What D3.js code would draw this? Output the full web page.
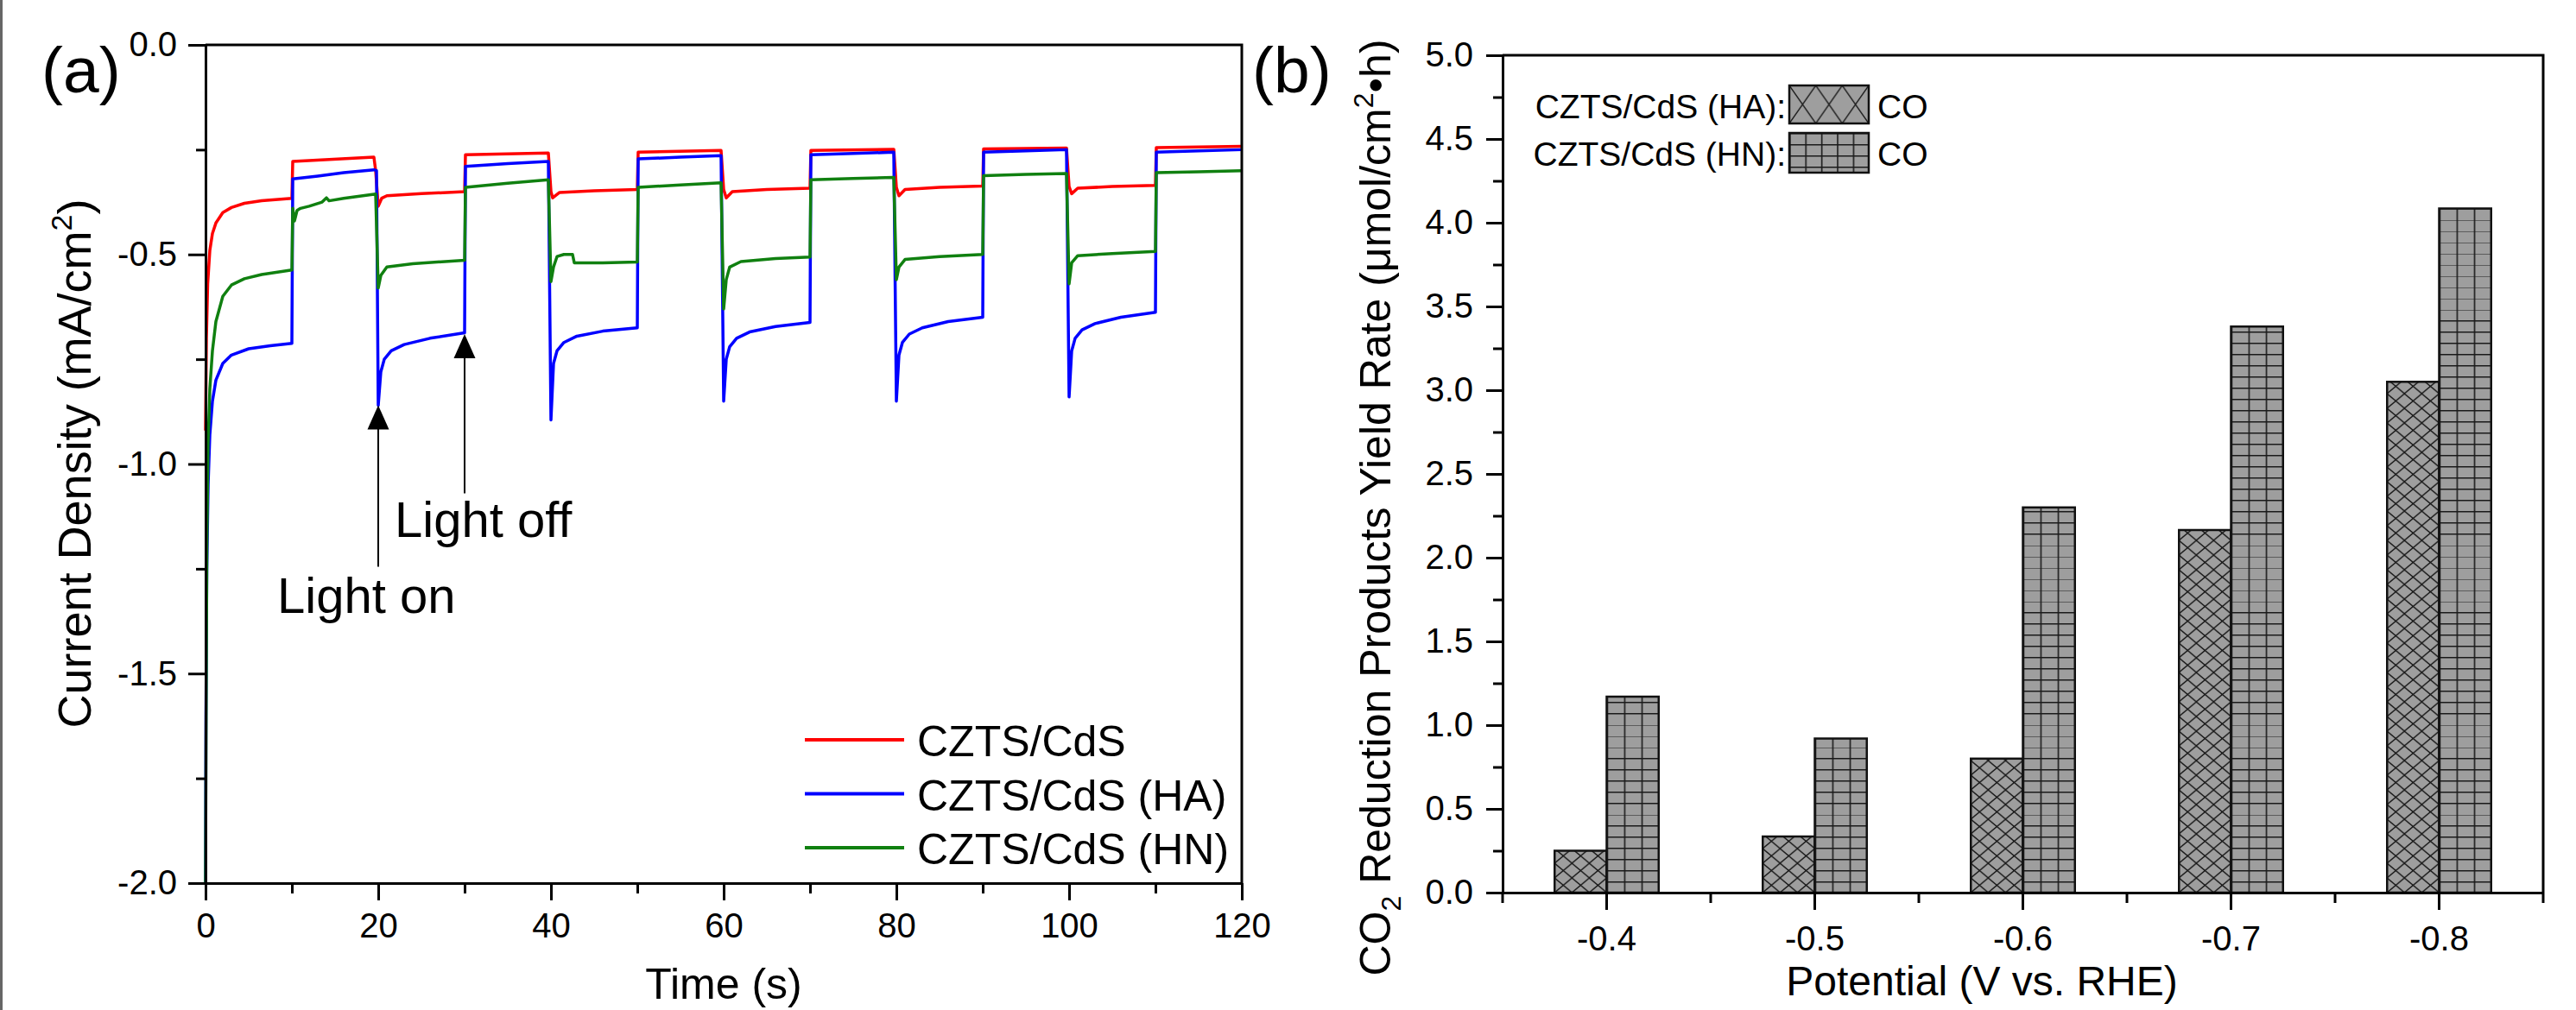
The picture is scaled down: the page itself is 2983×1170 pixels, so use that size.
<!DOCTYPE html>
<html lang="en">
<head>
<meta charset="UTF-8">
<title>CZTS/CdS photocurrent and CO2 reduction yield</title>
<script src="https://d3js.org/d3.v7.min.js"></script>
<style>
  body { margin: 0; background: #fff; }
  svg { display: block; font-family: "Liberation Sans", Arial, sans-serif; }
  .axis path, .axis line { stroke: #000; stroke-width: 3; }
  .axis text { font-size: 40px; fill: #000; font-family: "Liberation Sans", Arial, sans-serif; }
</style>
</head>
<body>
<svg id="chart" width="2983" height="1170"></svg>
<script>
// ---- data, panel (a): chronoamperometry under chopped light ----
const timeTicks = [0, 20, 40, 60, 80, 100, 120];
const timeMinor = [10, 30, 50, 70, 90, 110];
const densityTicks = [0, -0.5, -1, -1.5, -2];
const densityMinor = [-0.25, -0.75, -1.25, -1.75];
const seriesNames = ["CZTS/CdS", "CZTS/CdS (HA)", "CZTS/CdS (HN)"];

// [time (s), current density (mA/cm2)]
const cdsCurve = [
  [0, -0.92], [0.1, -0.7], [0.25, -0.57], [0.5, -0.49], [0.8, -0.45], [1.2, -0.425], [2, -0.4],
  [3, -0.388], [4.5, -0.378], [6.5, -0.372], [10, -0.366],
  [10.1, -0.278], [19.5, -0.268], [19.7, -0.3], [20, -0.385], [20.4, -0.366], [21, -0.36], [25, -0.355], [30, -0.35],
  [30.1, -0.262], [39.7, -0.258], [40, -0.35], [40.2, -0.365], [41, -0.352], [45, -0.348], [50, -0.345],
  [50.1, -0.256], [59.7, -0.252], [60, -0.345], [60.3, -0.365], [61, -0.35], [65, -0.345], [70, -0.342],
  [70.1, -0.252], [79.7, -0.249], [80, -0.34], [80.3, -0.36], [81, -0.345], [85, -0.34], [90, -0.337],
  [90.1, -0.248], [99.7, -0.246], [100, -0.338], [100.3, -0.355], [101, -0.342], [105, -0.338], [110, -0.335],
  [110.1, -0.245], [120, -0.242]
];
const haCurve = [
  [0, -2.0], [0.05, -1.6], [0.15, -1.25], [0.3, -1.05], [0.5, -0.93], [0.8, -0.85], [1.2, -0.8],
  [2, -0.76], [3, -0.74], [5, -0.725], [7.5, -0.718], [10, -0.712],
  [10.1, -0.32], [13, -0.313], [16, -0.305], [19.5, -0.298], [19.8, -0.3],
  [20, -0.86], [20.3, -0.78], [20.7, -0.75], [21.5, -0.73], [23, -0.715], [26, -0.7], [30, -0.687],
  [30.1, -0.29], [35, -0.283], [39.7, -0.278],
  [40, -0.895], [40.3, -0.76], [40.7, -0.73], [41.5, -0.71], [43, -0.695], [46, -0.683], [50, -0.675],
  [50.1, -0.272], [55, -0.268], [59.7, -0.264],
  [60, -0.85], [60.3, -0.75], [60.7, -0.72], [61.5, -0.7], [63, -0.685], [66, -0.672], [70, -0.662],
  [70.1, -0.262], [75, -0.259], [79.7, -0.256],
  [80, -0.85], [80.3, -0.74], [80.7, -0.71], [81.5, -0.69], [83, -0.675], [86, -0.66], [90, -0.65],
  [90.1, -0.256], [95, -0.253], [99.7, -0.25],
  [100, -0.84], [100.3, -0.73], [100.7, -0.7], [101.5, -0.68], [103, -0.665], [106, -0.65], [110, -0.638],
  [110.1, -0.256], [115, -0.253], [120, -0.25]
];
const hnCurve = [
  [0, -2.0], [0.05, -1.7], [0.15, -1.2], [0.3, -0.95], [0.5, -0.82], [0.8, -0.73], [1.2, -0.66],
  [2, -0.6], [3, -0.573], [4.5, -0.558], [6.5, -0.548], [10, -0.537],
  [10.1, -0.39], [10.3, -0.42], [10.6, -0.395], [11, -0.39], [12, -0.385], [13.5, -0.375], [14, -0.365],
  [14.3, -0.372], [16, -0.366], [19.7, -0.356],
  [20, -0.58], [20.3, -0.55], [21, -0.53], [24, -0.522], [30, -0.514],
  [30.1, -0.34], [35, -0.33], [39.7, -0.322],
  [40, -0.565], [40.3, -0.53], [40.7, -0.505], [41.5, -0.5], [42.5, -0.5], [42.7, -0.52], [46, -0.52], [50, -0.518],
  [50.1, -0.34], [55, -0.334], [59.7, -0.329],
  [60, -0.63], [60.3, -0.56], [60.7, -0.53], [62, -0.517], [66, -0.51], [70, -0.506],
  [70.1, -0.322], [75, -0.319], [79.7, -0.316],
  [80, -0.56], [80.3, -0.53], [81, -0.512], [85, -0.505], [90, -0.5],
  [90.1, -0.312], [95, -0.309], [99.7, -0.307],
  [100, -0.57], [100.3, -0.52], [101, -0.503], [105, -0.498], [110, -0.493],
  [110.1, -0.305], [115, -0.303], [120, -0.3]
];
// arrow annotations: time, tip value, tail value
const lightMarks = [
  { label: "Light on", t: 20, tip: -0.86, tail: -1.245 },
  { label: "Light off", t: 30, tip: -0.69, tail: -1.07 }
];

// ---- data, panel (b): CO yield rate vs potential ----
const potentials = ["-0.4", "-0.5", "-0.6", "-0.7", "-0.8"];
const haYield = [0.25, 0.335, 0.80, 2.165, 3.05];
const hnYield = [1.17, 0.92, 2.30, 3.38, 4.085];
const yieldTicks = [0, 0.5, 1, 1.5, 2, 2.5, 3, 3.5, 4, 4.5, 5];
const yieldMinor = [0.25, 0.75, 1.25, 1.75, 2.25, 2.75, 3.25, 3.75, 4.25, 4.75];

const lineColors = ["#ff0000", "#0000ff", "#108010"];
const fmt = d => d.toFixed(1);

const svg = d3.select("#chart");

// thin border on the left edge of the figure
svg.append("line").attr("x1", 1.5).attr("x2", 1.5).attr("y1", 0).attr("y2", 1170)
  .attr("stroke", "#666").attr("stroke-width", 3);

// ================= panel (a) =================
const xA = d3.scaleLinear().domain([0, 120]).range([238, 1438]);
const yA = d3.scaleLinear().domain([-2, 0]).range([1023, 52]);
const gA = svg.append("g");

const line = d3.line().x(d => xA(d[0])).y(d => yA(d[1]));
[cdsCurve, haCurve, hnCurve].forEach((c, i) => {
  gA.append("path").datum(c).attr("d", line)
    .attr("fill", "none").attr("stroke", lineColors[i])
    .attr("stroke-width", 3.5).attr("stroke-linejoin", "round");
});

gA.append("g").attr("class", "axis").attr("transform", `translate(0,${yA(-2)})`)
  .call(d3.axisBottom(xA).tickValues(timeTicks).tickSize(20).tickPadding(15).tickSizeOuter(0));
gA.append("g").attr("class", "axis").attr("transform", `translate(0,${yA(-2)})`)
  .call(d3.axisBottom(xA).tickValues(timeMinor).tickSize(12).tickFormat(""))
  .call(g => g.select(".domain").remove());
gA.append("g").attr("class", "axis").attr("transform", `translate(${xA(0)},0)`)
  .call(d3.axisLeft(yA).tickValues(densityTicks).tickFormat(fmt).tickSize(20).tickPadding(13).tickSizeOuter(0));
gA.append("g").attr("class", "axis").attr("transform", `translate(${xA(0)},0)`)
  .call(d3.axisLeft(yA).tickValues(densityMinor).tickSize(11).tickFormat(""))
  .call(g => g.select(".domain").remove());
gA.append("path")
  .attr("d", `M${xA(0)},${yA(0)}H${xA(120)}V${yA(-2)}`)
  .attr("fill", "none").attr("stroke", "#000").attr("stroke-width", 3);

// light on / off arrows
lightMarks.forEach(m => {
  const x = xA(m.t), tipY = yA(m.tip);
  gA.append("line").attr("x1", x).attr("x2", x).attr("y1", yA(m.tail)).attr("y2", tipY + 20)
    .attr("stroke", "#000").attr("stroke-width", 2);
  gA.append("path").attr("d", `M${x},${tipY}L${x - 12.5},${tipY + 28}L${x + 12.5},${tipY + 28}Z`)
    .attr("fill", "#000");
});
gA.append("text").attr("x", xA(20) - 117).attr("y", yA(lightMarks[0].tail) + 54)
  .attr("font-size", 58).text(lightMarks[0].label);
gA.append("text").attr("x", xA(20) + 19).attr("y", yA(lightMarks[1].tail) + 51)
  .attr("font-size", 58).text(lightMarks[1].label);

// legend (a)
seriesNames.forEach((name, i) => {
  const ly = 857 + i * 62.5;
  gA.append("line").attr("x1", 932).attr("x2", 1047).attr("y1", ly).attr("y2", ly)
    .attr("stroke", lineColors[i]).attr("stroke-width", 4);
  gA.append("text").attr("x", 1062).attr("y", ly + 19).attr("font-size", 50).text(name);
});

// titles (a)
const ytA = gA.append("text").attr("transform", "translate(105,537) rotate(-90)")
  .attr("text-anchor", "middle").attr("font-size", 54);
ytA.append("tspan").text("Current Density (mA/cm");
ytA.append("tspan").attr("font-size", 34).attr("dy", -22).text("2");
ytA.append("tspan").attr("dy", 22).text(")");
gA.append("text").attr("x", (xA(0) + xA(120)) / 2).attr("y", 1157)
  .attr("text-anchor", "middle").attr("font-size", 50).text("Time (s)");
gA.append("text").attr("x", 48).attr("y", 107).attr("font-size", 75).text("(a)");

// ================= panel (b) =================
const xB = d3.scaleBand().domain(potentials).range([1740, 2945]);
const yB = d3.scaleLinear().domain([0, 5]).range([1034, 64]);
const gB = svg.append("g");
const defs = svg.append("defs");
const bw = xB.bandwidth();
const barW = bw * 0.25;
const grey = "#9e9e9e", ink = "#1a1a1a";

function diamondPattern(id, x, y, w, h) {
  const p = defs.append("pattern").attr("id", id).attr("patternUnits", "userSpaceOnUse")
    .attr("x", x).attr("y", y).attr("width", w).attr("height", h);
  p.append("rect").attr("width", w).attr("height", h).attr("fill", grey);
  p.append("path").attr("d", `M0,0L${w},${h}M${w},0L0,${h}M${-w},0L${w},${2 * h}M${2 * w},0L0,${2 * h}M0,${-h}L${2 * w},${h}M${w},${-h}L${-w},${h}`)
    .attr("stroke", ink).attr("stroke-width", 1.4).attr("fill", "none");
}
function gridPattern(id, x, y, w, h) {
  const p = defs.append("pattern").attr("id", id).attr("patternUnits", "userSpaceOnUse")
    .attr("x", x).attr("y", y).attr("width", w).attr("height", h);
  p.append("rect").attr("width", w).attr("height", h).attr("fill", grey);
  p.append("path").attr("d", `M0.8,0V${h}M0,0.8H${w}`)
    .attr("stroke", ink).attr("stroke-width", 1.6).attr("fill", "none");
}

potentials.forEach((p, i) => {
  const cx = xB(p) + bw / 2;
  diamondPattern(`ha-${i}`, cx - barW, yB(0), barW / 3, 17);
  gridPattern(`hn-${i}`, cx, yB(0), barW / 3, 13);
  gB.append("rect").attr("x", cx - barW).attr("y", yB(haYield[i]))
    .attr("width", barW).attr("height", yB(0) - yB(haYield[i]))
    .attr("fill", `url(#ha-${i})`).attr("stroke", "#111").attr("stroke-width", 2.5);
  gB.append("rect").attr("x", cx).attr("y", yB(hnYield[i]))
    .attr("width", barW).attr("height", yB(0) - yB(hnYield[i]))
    .attr("fill", `url(#hn-${i})`).attr("stroke", "#111").attr("stroke-width", 2.5);
});

gB.append("g").attr("class", "axis").attr("transform", `translate(0,${yB(0)})`)
  .call(d3.axisBottom(xB).tickSize(20).tickPadding(19).tickSizeOuter(0));
const bounds = potentials.map(p => xB(p)).concat([xB.range()[1]]);
gB.append("g").attr("class", "axis").selectAll("line").data(bounds).join("line")
  .attr("x1", d => d).attr("x2", d => d).attr("y1", yB(0)).attr("y2", yB(0) + 12);
gB.append("g").attr("class", "axis").attr("transform", `translate(${xB.range()[0]},0)`)
  .call(d3.axisLeft(yB).tickValues(yieldTicks).tickFormat(fmt).tickSize(19).tickPadding(15).tickSizeOuter(0));
gB.append("g").attr("class", "axis").attr("transform", `translate(${xB.range()[0]},0)`)
  .call(d3.axisLeft(yB).tickValues(yieldMinor).tickSize(11).tickFormat(""))
  .call(g => g.select(".domain").remove());
gB.append("path")
  .attr("d", `M${xB.range()[0]},${yB(5)}H${xB.range()[1]}V${yB(0)}`)
  .attr("fill", "none").attr("stroke", "#000").attr("stroke-width", 3);

// legend (b)
const legB = [
  { label: "CZTS/CdS (HA):", pat: "leg-ha", y: 99, h: 44 },
  { label: "CZTS/CdS (HN):", pat: "leg-hn", y: 154, h: 46 }
];
diamondPattern("leg-ha", 2072, 99, 92 / 3, 44);
gridPattern("leg-hn", 2072, 154, 92 / 5, 13);
legB.forEach(d => {
  gB.append("rect").attr("x", 2072).attr("y", d.y).attr("width", 92).attr("height", d.h)
    .attr("fill", `url(#${d.pat})`).attr("stroke", "#111").attr("stroke-width", 2.5);
  gB.append("text").attr("x", 2068).attr("y", d.y + 38).attr("text-anchor", "end")
    .attr("font-size", 39).text(d.label);
  gB.append("text").attr("x", 2174).attr("y", d.y + 38).attr("font-size", 39).text("CO");
});

// titles (b)
const ytB = gB.append("text").attr("transform", "translate(1610,588) rotate(-90)")
  .attr("text-anchor", "middle").attr("font-size", 50);
ytB.append("tspan").text("CO");
ytB.append("tspan").attr("font-size", 32).attr("dy", 12).text("2");
ytB.append("tspan").attr("dy", -12).text(" Reduction Products Yield Rate (μmol/cm");
ytB.append("tspan").attr("font-size", 32).attr("dy", -20).text("2");
ytB.append("tspan").attr("dy", 20).text("•h)");
gB.append("text").attr("x", 2295).attr("y", 1153).attr("text-anchor", "middle")
  .attr("font-size", 48).text("Potential (V vs. RHE)");
gB.append("text").attr("x", 1450).attr("y", 107).attr("font-size", 75).text("(b)");
</script>
</body>
</html>
